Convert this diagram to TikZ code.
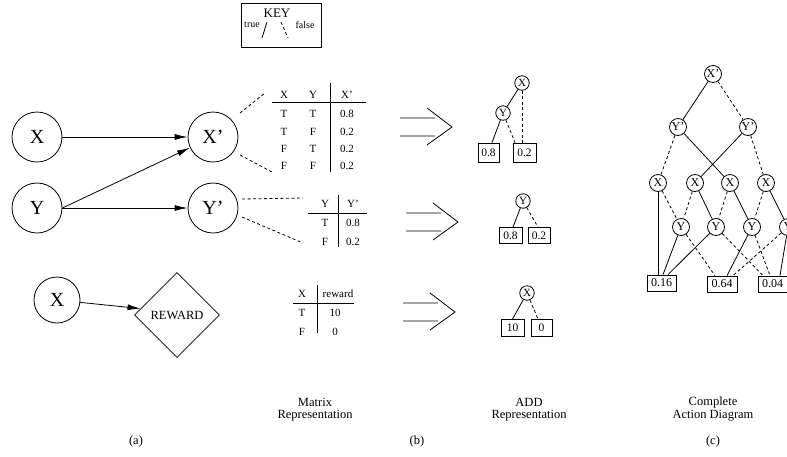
\documentclass[tikz,border=0pt]{standalone}
\usepackage{fontspec}
\setmainfont{Liberation Serif}
\usetikzlibrary{shapes.geometric,arrows.meta,calc}
\begin{document}
\begin{tikzpicture}[x=1pt,y=-1pt,line width=0.8pt,
  big/.style={circle,draw,minimum size=50pt,inner sep=0pt,font=\fontsize{20}{20}\selectfont},
  arr/.style={-{Latex[length=13pt,width=6pt]}},
  tf/.style={inner sep=0pt,font=\fontsize{11}{12}\selectfont,text height=7.3pt,text depth=0pt},
  dsh/.style={dash pattern=on 3pt off 2.5pt},
  sc/.style={circle,draw,minimum size=14.5pt,inner sep=0pt,font=\fontsize{11}{11}\selectfont},
  lf/.style={draw,minimum width=22pt,minimum height=18pt,inner sep=0pt,font=\fontsize{11.5}{12}\selectfont},
  cc/.style={circle,draw,minimum size=17pt,inner sep=0pt,font=\fontsize{12}{12}\selectfont},
  cb/.style={draw,minimum width=29pt,minimum height=16pt,inner sep=0pt,font=\fontsize{12}{12}\selectfont},
  lab/.style={inner sep=0pt,font=\fontsize{12.5}{13}\selectfont},
  imp/.pic={\draw (-52,-9)--(-17,-9) (-52,9)--(-17,9) (-25,-19)--(0,0)--(-25,18);}
]
\useasboundingbox (0,0) rectangle (787,456);

% KEY
\node[draw,minimum width=80pt,minimum height=44pt,inner sep=0pt] (key) at (281,25.5) {};
\node[inner sep=0pt,font=\fontsize{13}{13}\selectfont] (keyt) at (277,13) {KEY};
\node[inner sep=0pt,font=\fontsize{10}{10}\selectfont] (keytrue) at (252,25) {true};
\node[inner sep=0pt,font=\fontsize{10}{10}\selectfont] (keyfalse) at (305,25) {false};
\draw (262,38) -- (267,22);
\draw[dsh] (281,22) -- (288,38);

% (a) network
\node[big] (X) at (37,137) {X};
\node[big] (Xp) at (213,137) {X'};
\node[big] (Y) at (37,208) {Y};
\node[big] (Yp) at (213,208) {Y'};
\node[big,minimum size=46pt] (Xr) at (57,300) {X};
\node[diamond,draw,minimum size=85pt,inner sep=0pt,font=\fontsize{12.5}{12.5}\selectfont] (R) at (177,315) {REWARD};
\draw[arr] (X) -- (Xp);
\draw[arr] (Y.east) -- (Xp.-155);
\draw[arr] (Y) -- (Yp);
\draw[arr] (Xr) -- (R.170);

% dashed pointers
\coordinate (p1a) at (240,113); \coordinate (p1b) at (265,93);
\coordinate (p2a) at (240,155); \coordinate (p2b) at (272,172);
\coordinate (p3a) at (242,199); \coordinate (p3b) at (303,198);
\coordinate (p4a) at (242,217); \coordinate (p4b) at (303,243);
\draw[dsh] (p1a) -- (p1b);
\draw[dsh] (p2a) -- (p2b);
\draw[dsh] (p3a) -- (p3b);
\draw[dsh] (p4a) -- (p4b);

% table 1
\node[tf] (t1h1) at (284,95) {X};
\node[tf] (t1h2) at (313,95) {Y};
\node[tf] (t1h3) at (347,95) {X'};
\draw (272,102) -- (366,102);
\draw (330,83) -- (330,172);
\node[tf] (t1a1) at (284,114) {T}; \node[tf] (t1a2) at (313,114) {T}; \node[tf] (t1a3) at (347,114) {0.8};
\node[tf] (t1b1) at (284,132) {T}; \node[tf] (t1b2) at (313,132) {F}; \node[tf] (t1b3) at (347,132) {0.2};
\node[tf] (t1c1) at (284,149) {F}; \node[tf] (t1c2) at (313,149) {T}; \node[tf] (t1c3) at (347,149) {0.2};
\node[tf] (t1d1) at (284,166) {F}; \node[tf] (t1d2) at (313,166) {F}; \node[tf] (t1d3) at (347,166) {0.2};

% table 2
\node[tf] (t2h1) at (325,204) {Y};
\node[tf] (t2h2) at (353,204) {Y'};
\draw (308,213) -- (367,213);
\draw (338,195) -- (338,247);
\node[tf] (t2a1) at (325,223) {T}; \node[tf] (t2a2) at (353,223) {0.8};
\node[tf] (t2b1) at (325,242) {F}; \node[tf] (t2b2) at (353,242) {0.2};

% table 3
\node[tf] (t3h1) at (302,294) {X};
\node[tf] (t3h2) at (338,294) {reward};
\draw (293,303) -- (354,303);
\draw (317,285) -- (317,333);
\node[tf] (t3a1) at (302,313) {T}; \node[tf] (t3a2) at (335,313) {10};
\node[tf] (t3b1) at (302,332) {F}; \node[tf] (t3b2) at (335,332) {0};

% implication arrows
\pic at (452,127) {imp};
\pic at (458,222) {imp};
\pic at (455,312) {imp};

% ADD 1
\node[sc] (a1x) at (522,83) {X};
\node[sc] (a1y) at (503,113) {Y};
\node[lf,minimum width=21pt,minimum height=19pt] (a1b1) at (488.5,152.5) {0.8};
\node[lf,minimum width=23pt,minimum height=19pt] (a1b2) at (524.5,152.5) {0.2};
\draw (a1x) -- (a1y);
\draw[dsh] (a1x) -- (a1b2.north -| a1x);
\draw (a1y) -- ([xshift=3.5pt]a1b1.north);
\draw[dsh] (a1y) -- ([xshift=-9.5pt]a1b2.north);

% ADD 2
\node[sc] (a2y) at (523,201) {Y};
\node[lf,minimum width=23pt,minimum height=16pt] (a2b1) at (510.5,235.5) {0.8};
\node[lf,minimum width=22pt,minimum height=16pt] (a2b2) at (539,235.5) {0.2};
\draw (a2y) -- ([xshift=2.5pt]a2b1.north);
\draw[dsh] (a2y) -- ([xshift=-1pt]a2b2.north);

% ADD 3
\node[sc] (a3x) at (527,293) {X};
\node[lf,minimum width=23pt,minimum height=17pt] (a3b1) at (512.5,328) {10};
\node[lf,minimum width=21pt,minimum height=17pt] (a3b2) at (541.5,328) {0};
\draw (a3x) -- (a3b1.north);
\draw[dsh] (a3x) -- ([xshift=-3.5pt]a3b2.north);

% complete diagram
\node[cc] (cX) at (713,74) {X'};
\node[cc] (cYL) at (678,127) {Y'};
\node[cc] (cYR) at (748,127) {Y'};
\node[cc] (cX1) at (658,183) {X};
\node[cc] (cX2) at (695,183) {X};
\node[cc] (cX3) at (730,183) {X};
\node[cc] (cX4) at (766,183) {X};
\node[cc] (cY1) at (681,227) {Y};
\node[cc] (cY2) at (716,227) {Y};
\node[cc] (cY3) at (752,227) {Y};
\node[cc] (cY4) at (788,227) {Y};
\node[cb] (B16) at (661.5,283) {0.16};
\node[cb,minimum width=30pt] (B64) at (722,284) {0.64};
\node[cb] (B04) at (772.5,284) {0.04};

\draw (cX) -- (cYL);
\draw[dsh] (cX) -- (cYR);
\draw[dsh] (cYL) -- (cX1);
\draw (cYL) -- (cX3);
\draw (cYR) -- (cX2);
\draw[dsh] (cYR) -- (cX4);
\draw (cX1) -- (B16.north -| cX1);
\draw[dsh] (cX1) -- (cY1);
\draw[dsh] (cX2) -- (cY1);
\draw (cX2) -- (cY2);
\draw[dsh] (cX3) -- (cY2);
\draw (cX3) -- (cY3);
\draw[dsh] (cX4) -- (cY3);
\draw (cX4) -- (cY4);
\draw (cY1) -- ([xshift=1.5pt]B16.north);
\draw[dsh] (cY1) -- ([xshift=-7pt]B64.north);
\draw (cY2) -- ([xshift=6.5pt]B16.north);
\draw[dsh] (cY2) -- ([xshift=-9.5pt]B04.north);
\draw (cY3) -- ([xshift=5pt]B64.north);
\draw[dsh] (cY3) -- ([xshift=-2.5pt]B04.north);
\draw[dsh] (cY4) -- ([xshift=11pt]B64.north);
\draw (cY4) -- ([xshift=7.5pt]B04.north);

% labels
\node[lab] (l1a) at (315,402) {Matrix};
\node[lab] (l1b) at (315,416) {Representation};
\node[lab] (l2a) at (529,402) {ADD};
\node[lab] (l2b) at (529,416) {Representation};
\node[lab] (l3a) at (713,402) {Complete};
\node[lab] (l3b) at (713,416) {Action Diagram};
\node[lab] (ca) at (136,441) {(a)};
\node[lab] (cbl) at (417,441) {(b)};
\node[lab] (cc) at (713,441) {(c)};
\end{tikzpicture}
\end{document}
